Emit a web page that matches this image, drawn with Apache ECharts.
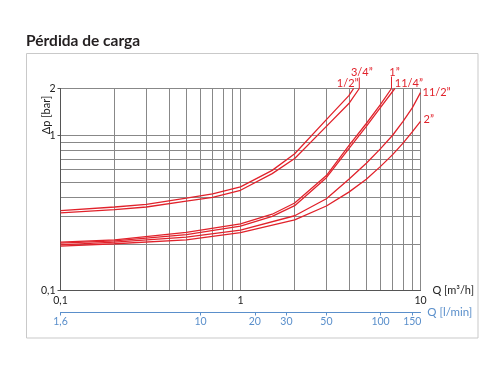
<!DOCTYPE html>
<html><head><meta charset="utf-8">
<script src="https://cdn.jsdelivr.net/npm/echarts@6/dist/echarts.min.js"></script>
<style>html,body{margin:0;padding:0;background:#fff}#c{width:500px;height:375px}</style>
</head><body><div id="c"></div>
<script>
// ---- data (Q in m3/h, dp in bar) ----
const seriesNames = ['1/2”', '3/4”', '1”', '11/4”', '11/2”', '2”'];
const q12  = [0.1, 0.2, 0.3, 0.5, 0.7, 1, 1.5, 2, 3, 4, 4.25];
const dp12 = [0.327, 0.345, 0.359, 0.393, 0.419, 0.465, 0.594, 0.76, 1.26, 1.8, 2.0];
const q34  = [0.1, 0.2, 0.3, 0.5, 0.7, 1, 1.5, 2, 3, 4, 4.57];
const dp34 = [0.316, 0.332, 0.345, 0.376, 0.398, 0.442, 0.566, 0.708, 1.14, 1.6, 2.0];
const q1   = [0.1, 0.2, 0.5, 1, 1.5, 2, 3, 4, 5, 6, 6.9];
const dp1  = [0.205, 0.212, 0.237, 0.269, 0.31, 0.366, 0.55, 0.858, 1.19, 1.58, 2.0];
const q114  = [0.1, 0.2, 0.5, 1, 1.5, 2, 3, 4, 5, 6, 7.2];
const dp114 = [0.202, 0.209, 0.229, 0.26, 0.3, 0.352, 0.533, 0.82, 1.14, 1.51, 2.0];
const q112  = [0.1, 0.2, 0.5, 1, 2, 3, 4, 5, 6, 7, 8, 9, 10];
const dp112 = [0.197, 0.205, 0.221, 0.245, 0.303, 0.39, 0.52, 0.66, 0.82, 1.0, 1.23, 1.5, 1.88];
const q2   = [0.1, 0.2, 0.5, 1, 2, 3, 4, 5, 6, 7, 8, 9, 10];
const dp2  = [0.193, 0.2, 0.212, 0.236, 0.285, 0.35, 0.43, 0.52, 0.63, 0.75, 0.89, 1.05, 1.23];

const xGridValues = [0.1,0.2,0.3,0.4,0.5,0.6,0.7,0.8,0.9,1,2,3,4,5,6,7,8,9,10];
const yGridValues = [0.1,0.2,0.3,0.4,0.5,0.6,0.7,0.8,0.9,1,2];
const xTickLabels = [0.1, 1, 10];
const yTickLabels = [0.1, 1, 2];
const lminTicks = [100/60, 10, 20, 30, 50, 100, 150];

const qs = [q12, q34, q1, q114, q112, q2];
const dps = [dp12, dp34, dp1, dp114, dp112, dp2];

const RED = '#e1222b';
const BLUE = '#5a8fcb';
const FONT = 'Lato';
const comma = v => String(v).replace('.', ',');

const chart = echarts.init(document.getElementById('c'), null, {renderer: 'canvas'});

const series = seriesNames.map((n, i) => ({
  name: n, type: 'line', xAxisIndex: 0, yAxisIndex: 0,
  data: qs[i].map((q, j) => [q, dps[i][j]]),
  symbol: 'none', smooth: false,
  lineStyle: {color: RED, width: 1.3},
  z: 5
}));

chart.setOption({
  animation: false,
  backgroundColor: '#fff',
  title: {text: 'Pérdida de carga', left: 26, top: 33, padding: 0,
    textStyle: {fontFamily: FONT, fontWeight: 'bold', fontSize: 15.5, color: '#231f20'}},
  grid: {left: 60.5, right: 79.5, top: 88.5, bottom: 84.5, containLabel: false},
  xAxis: [
    {type: 'log', logBase: 10, min: 0.1, max: 10, position: 'bottom',
     axisLine: {show: true, lineStyle: {color: '#555', width: 1}},
     axisTick: {show: false, customValues: xGridValues},
     splitLine: {show: true, lineStyle: {color: '#888', width: 1}},
     axisLabel: {customValues: xTickLabels, formatter: v => comma(v), margin: 5,
       color: '#222', fontSize: 10.5, fontFamily: FONT},
     name: 'Q [m³/h]', nameLocation: 'end', nameGap: 6,
     nameTextStyle: {color: '#222', fontSize: 11, fontFamily: FONT}},
    {type: 'log', logBase: 10, min: 100/60, max: 1000/6, position: 'bottom', offset: 22,
     axisLine: {show: true, lineStyle: {color: BLUE, width: 1}},
     axisTick: {show: true, customValues: lminTicks, length: 3, lineStyle: {color: BLUE}},
     splitLine: {show: false},
     axisLabel: {customValues: lminTicks,
       formatter: v => Math.abs(v - 100/60) < 0.01 ? '1,6' : String(Math.round(v)),
       margin: 4, color: BLUE, fontSize: 10.5, fontFamily: FONT},
     name: 'Q [l/min]', nameLocation: 'end', nameGap: 6,
     nameTextStyle: {color: BLUE, fontSize: 11.5, fontFamily: FONT}}
  ],
  yAxis: [
    {type: 'log', logBase: 10, min: 0.1, max: 2, position: 'left',
     axisLine: {show: true, lineStyle: {color: '#555', width: 1}},
     axisTick: {show: false, customValues: yGridValues},
     splitLine: {show: true, lineStyle: {color: '#888', width: 1}},
     axisLabel: {customValues: yTickLabels, formatter: v => comma(v), margin: 5,
       color: '#222', fontSize: 10.5, fontFamily: FONT}},
    {type: 'log', logBase: 10, min: 0.1, max: 2, position: 'left',
     axisLine: {show: false},
     axisTick: {show: true, customValues: yTickLabels, length: 3, lineStyle: {color: '#555'}},
     axisLabel: {show: false}, splitLine: {show: false}}
  ],
  series: series
});

// labels attached to curve ends
const labelSpec = [
  {dx: 5, dy: -5, align: 'right', lead: 0},
  {dx: 2.5, dy: -16.5, align: 'center', lead: 11},
  {dx: 3, dy: -16.5, align: 'center', lead: 12},
  {dx: 0, dy: -5, align: 'left', lead: 0},
  {dx: 2, dy: 0, align: 'left', lead: 0},
  {dx: 3, dy: -1.5, align: 'left', lead: 0}
];
const graphics = [
  {type: 'rect', shape: {x: 26.5, y: 53.5, width: 451.5, height: 284.5},
   style: {fill: 'none', stroke: '#c9c9c9', lineWidth: 1}, z: -10, silent: true},
  {type: 'text', x: 46, y: 115, rotation: Math.PI / 2,
   style: {text: 'Δp [bar]', fill: '#222', font: '11px ' + FONT, align: 'center', verticalAlign: 'middle'}}
];
seriesNames.forEach((n, i) => {
  const last = qs[i].length - 1;
  const p = chart.convertToPixel({xAxisIndex: 0, yAxisIndex: 0}, [qs[i][last], dps[i][last]]);
  const s = labelSpec[i];
  if (s.lead) {
    graphics.push({type: 'line', shape: {x1: p[0], y1: p[1], x2: p[0], y2: p[1] - s.lead},
      style: {stroke: RED, lineWidth: 1}});
  }
  graphics.push({type: 'text', x: p[0] + s.dx, y: p[1] + s.dy,
    style: {text: n, fill: RED, font: '11px ' + FONT, align: s.align, verticalAlign: 'middle'}});
});
chart.setOption({graphic: graphics});
</script>
</body></html>
